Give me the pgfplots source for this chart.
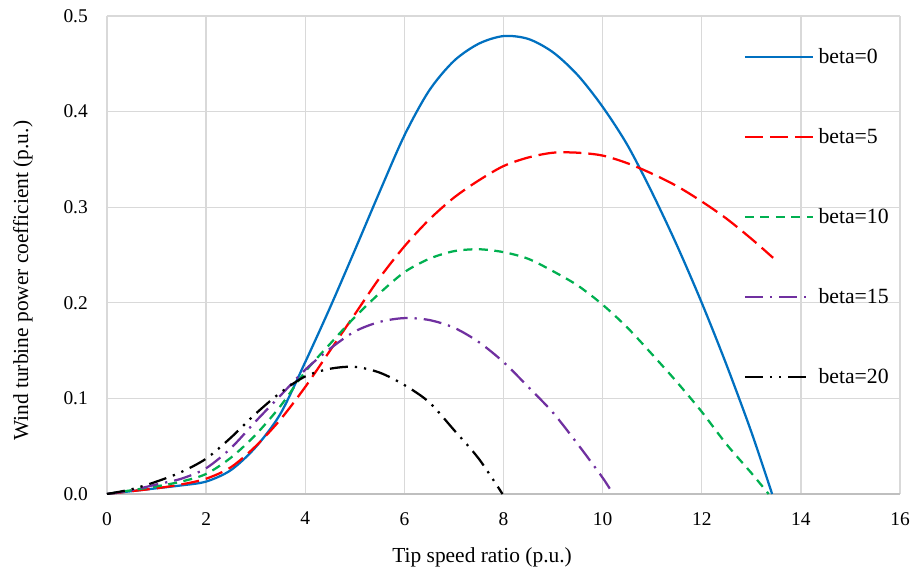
\documentclass[border=0pt]{standalone}
\usepackage{fontspec}
\setmainfont{Liberation Serif}
\usepackage{pgfplots}
\pgfplotsset{compat=1.18}

\definecolor{cblue}{HTML}{0070C0}
\definecolor{cred}{HTML}{FF0000}
\definecolor{cgreen}{HTML}{00B050}
\definecolor{cpurple}{HTML}{7030A0}
\definecolor{gridgray}{HTML}{D9D9D9}
\definecolor{axisgray}{HTML}{BFBFBF}

\begin{document}
\begin{tikzpicture}
\useasboundingbox (-107bp,-77bp) rectangle (810bp,494bp);
\begin{axis}[
    scale only axis,
    width=793bp, height=478bp,
    xmin=0, xmax=16, ymin=0, ymax=0.5,
    xtick={0,2,4,6,8,10,12,14,16},
    ytick={0,0.1,0.2,0.3,0.4,0.5},
    /pgf/number format/assume math mode=true,
    yticklabel={\pgfmathprintnumber[fixed,fixed zerofill,precision=1]{\tick}},
    major tick length=0pt,
    grid=major,
    major grid style={gridgray, line width=1.3bp},
    axis lines*=left,
    x axis line style={axisgray, line width=1.6bp, -},
    y axis line style={gridgray, line width=1.3bp, -},
    xticklabel style={font=\fontsize{19.5}{20}\selectfont, inner sep=0pt, anchor=north, yshift=-18bp},
    yticklabel style={font=\fontsize{19.5}{20}\selectfont, inner sep=0pt, anchor=east, xshift=-19bp},
    xlabel={Tip speed ratio (p.u.)},
    ylabel={Wind turbine power coefficient (p.u.)},
    label style={font=\fontsize{21.5}{22}\selectfont},
    xlabel style={at={(axis description cs:0.473,-0.132)}, anchor=center},
    ylabel style={at={(axis description cs:-0.106,0.446)}, anchor=center},
    every axis plot/.append style={line width=2.25bp, line join=round},
    legend image code/.code={\draw[#1] (0bp,0bp) -- (68bp,0bp);},
    legend cell align=left,
    legend style={at={(rel axis cs:0.803,0.932)}, anchor=north west,
        draw=none, fill=none, inner sep=0pt, outer sep=0pt,
        row sep=63.5bp, font=\fontsize{21.8}{22}\selectfont,
        nodes={inner sep=0pt},
        /tikz/every odd column/.append style={column sep=4.5bp}},
]

% beta = 0
\addplot[cblue, smooth] coordinates {
 (0,0) (0.5,0.003) (1,0.006) (1.5,0.009) (2,0.013) (2.5,0.025) (3,0.049)
 (3.5,0.084) (4,0.138) (4.5,0.195) (5,0.255) (5.5,0.316) (6,0.375)
 (6.5,0.422) (7,0.453) (7.5,0.471) (8,0.479) (8.5,0.476) (9,0.462)
 (9.5,0.438) (10,0.405) (10.5,0.365) (11,0.315) (11.5,0.26) (12,0.2)
 (12.5,0.135) (13,0.065) (13.42,0)
};
\addlegendentry{beta=0}

% beta = 5
\addplot[cred, smooth, dash pattern=on 18bp off 7bp] coordinates {
 (0,0) (0.5,0.003) (1,0.006) (1.5,0.01) (2,0.016) (2.5,0.028) (3,0.05)
 (3.5,0.078) (4,0.112) (4.5,0.15) (5,0.188) (5.5,0.226) (6,0.259)
 (6.5,0.287) (7,0.31) (7.5,0.328) (8,0.343) (8.5,0.352) (9,0.357)
 (9.5,0.357) (10,0.354) (10.5,0.346) (11,0.335) (11.5,0.322) (12,0.306)
 (12.5,0.288) (13,0.267) (13.44,0.247)
};
\addlegendentry{beta=5}

% beta = 10
\addplot[cgreen, smooth, dash pattern=on 9bp off 6.5bp] coordinates {
 (0,0) (0.5,0.004) (1,0.008) (1.5,0.013) (2,0.021) (2.5,0.038) (3,0.062)
 (3.5,0.092) (4,0.128) (4.5,0.157) (5,0.185) (5.5,0.21) (6,0.232)
 (6.5,0.246) (7,0.254) (7.5,0.256) (8,0.253) (8.5,0.246) (9,0.233)
 (9.5,0.218) (10,0.198) (10.5,0.174) (11,0.146) (11.5,0.117) (12,0.086)
 (12.5,0.052) (13,0.022) (13.35,0)
};
\addlegendentry{beta=10}

% beta = 15
\addplot[cpurple, smooth, dash pattern=on 18bp off 7bp on 2.25bp off 7bp] coordinates {
 (0,0) (0.5,0.004) (1,0.01) (1.5,0.016) (2,0.027) (2.5,0.048) (3,0.076)
 (3.5,0.103) (4,0.13) (4.5,0.152) (5,0.17) (5.5,0.18) (6,0.184)
 (6.5,0.182) (7,0.174) (7.5,0.159) (8,0.138) (8.5,0.112) (9,0.085)
 (9.5,0.052) (10,0.017) (10.21,0)
};
\addlegendentry{beta=15}

% beta = 20
\addplot[black, smooth, dash pattern=on 18bp off 7bp on 2.25bp off 7bp on 2.25bp off 7bp] coordinates {
 (0,0) (0.5,0.005) (1,0.013) (1.5,0.023) (2,0.037) (2.5,0.059) (3,0.084)
 (3.5,0.106) (4,0.123) (4.5,0.131) (5,0.133) (5.5,0.127) (6,0.114)
 (6.5,0.096) (7,0.067) (7.5,0.037) (7.98,0)
};
\addlegendentry{beta=20}

\end{axis}
\end{tikzpicture}
\end{document}
